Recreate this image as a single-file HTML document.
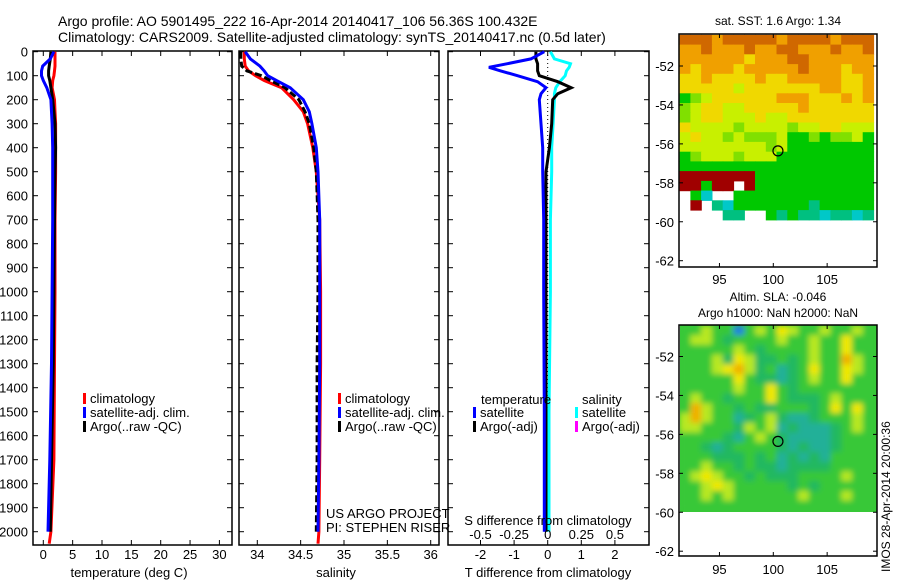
<!DOCTYPE html>
<html><head><meta charset="utf-8">
<style>
html,body{margin:0;padding:0;background:#fff;}
svg{display:block;font-family:"Liberation Sans",sans-serif;}
text{fill:#000;}
</style></head>
<body>
<svg id="fig" width="900" height="580" viewBox="0 0 900 580" xmlns="http://www.w3.org/2000/svg">
<defs>
<filter id="blur" x="-5%" y="-5%" width="110%" height="110%"><feGaussianBlur stdDeviation="3" edgeMode="duplicate"/></filter>
<clipPath id="clipSla"><rect x="680" y="325" width="197" height="187"/></clipPath>
</defs>
<text x="58" y="26" font-size="14">Argo profile: AO 5901495_222 16-Apr-2014 20140417_106 56.36S 100.432E</text>
<text x="58" y="42" font-size="14">Climatology: CARS2009. Satellite-adjusted climatology: synTS_20140417.nc (0.5d later)</text>
<g id="layer"></g>
</svg>
<script>
// ---------- data ----------
const depths = [0,30,60,80,100,120,150,200,250,300,400,500,700,1000,1300,1700,2000,2050];
const tempClim = [2.0,2.0,2.0,1.9,1.8,1.6,1.5,1.9,2.0,2.1,2.1,2.1,2.0,2.0,1.9,1.8,1.3,1.0];
const tempSat  = [1.8,1.2,-0.1,-0.3,-0.3,0.0,0.6,1.3,1.4,1.5,1.6,1.6,1.6,1.5,1.4,1.1,0.8,null];
const tempArgo = [1.3,1.2,1.0,0.9,0.9,1.1,1.3,1.6,1.8,2.0,2.1,2.0,1.9,1.8,1.7,1.4,1.2,null];
const salClim = [33.85,33.85,33.86,33.90,33.98,34.08,34.28,34.42,34.53,34.58,34.64,34.68,34.72,34.73,34.73,34.72,34.71,34.70];
const salSat  = [33.86,33.92,34.03,34.08,34.12,34.22,34.38,34.53,34.60,34.63,34.68,34.70,34.72,34.72,34.72,34.71,34.70,null];
const salArgo = [33.81,33.81,33.82,33.88,34.05,34.15,34.32,34.48,34.55,34.60,34.65,34.68,34.70,34.70,34.69,34.69,34.68,null];
const diffDepths = [0,30,50,65,80,100,125,150,175,200,300,400,500,700,1000,1500,2000];
const dTempSat  = [-0.1,-0.5,-1.2,-1.75,-1.4,-0.9,-0.3,-0.05,-0.2,-0.25,-0.2,-0.15,-0.15,-0.12,-0.12,-0.1,-0.1];
const dTempArgo = [-0.35,-0.35,-0.3,-0.3,-0.3,-0.25,0.3,0.7,0.3,0.15,0.12,0.05,-0.05,-0.05,-0.05,-0.05,-0.05];
const dSalSat   = [0.02,0.05,0.17,0.16,0.14,0.13,0.09,0.06,0.05,0.05,0.04,0.03,0.03,0.02,0.02,0.01,0.01];
const depthTicks = [0,100,200,300,400,500,600,700,800,900,1000,1100,1200,1300,1400,1500,1600,1700,1800,1900,2000];
const tempTicks = [0,5,10,15,20,25,30];
const salTicks = [34,34.5,35,35.5,36];
const salTickLabels = ["34","34.5","35","35.5","36"];
const dTTicks = [-2,-1,0,1,2];
const dSTicks = [-0.5,-0.25,0,0.25,0.5];
const dSTickLabels = ["-0.5","-0.25","0","0.25","0.5"];
const latTicks = [-52,-54,-56,-58,-60,-62];
const lonTicks = [95,100,105];
const argoLat = -56.36, argoLon = 100.432;
const sstRows = [
"OOOoOOOOOoOOOOoOOO","ooOoooOooOOoooOooO","ooooooyoooOOoooooo","oyoooyoooooOoooyoo",
"yyoyyyyoyyoooooyyo","yyyyyYyyyyyyyooyyo","GgYyyyyyyoooyyyoyo","gYyyYYyyyyyoyyyyyy",
"gYyyYYYyYYyyyyyyyy","yYYYYgYYYYgYYyyYYY","YyYYgYgggYGGgGggYG","YYYYYYYYgYGGGGGGGG",
"GgYYYgYYYGGGGGGGGG","GGGGGGGGGGGGGGGGGG","DDDDDDDGGGGGGGGGGG","DDGDD.DGGGGGGGGGGG",
".Gc..GGGGGGGGGGGGG",".D.tcGGGGGGGtGGGGG","....tt..GtGttcttct"];
const slaRows = [
"GGYGGbGYGyYGGYGGYG","GYYGgGGGGYGGYGGyGG","GGGGGYGgGGGGYGGyGG","GGGYgyYggGgGYGGoYG",
"GGGYyoYgGtgGyGGyYG","GGGGGyGggtgGYGGyGG","GGGGGYGGyGgGGGGGGG","GYGGgGGGyGgggGYGGG",
"GoYGGgGggGGGgGyGyG","YoYGGtgGYgttgGGGYG","YYGGGgYGYtgtttgGYG","GGGGgtGYGgttttgGGG",
"GGgtgGGGGgtgttgGGG","GGGgggGgGtgtgtGGGG","GGYGGgGggtggggGGGG","GYyYGGgGgggGGGGYGG",
"GGYyYGGGGGgGgGGGGG","GGYGYGGGGGGYGGGYGG","GGGGGGGGGGGGGGGGGG"];
const sstColors = {O:"#d06800",o:"#f0a000",y:"#f0d800",Y:"#c8f000",g:"#80e000",G:"#00c800",t:"#00c080",c:"#00c8c8",D:"#a00000"};
const slaColors = {G:"#38c838",g:"#20b860",t:"#20b098",Y:"#b8e820",y:"#f0e800",o:"#f0b000",b:"#2080e0"};

// ---------- helpers ----------
const NS = "http://www.w3.org/2000/svg";
const layer = document.getElementById('layer');
function mk(tag, attrs, parent){ const e=document.createElementNS(NS,tag); for(const k in attrs) e.setAttribute(k,attrs[k]); (parent||layer).appendChild(e); return e; }
function txt(x,y,s,size,anchor,parent){ const t=mk('text',{x:x,y:y,'font-size':size||13,'text-anchor':anchor||'start'},parent); t.textContent=s; return t; }
const yD = d => 51.7 + d*0.24;
const P1 = {l:33,r:232,t:51,b:545}, P2={l:239,r:439,t:51,b:545}, P3={l:448,r:649,t:51,b:545};
const xT = v => 43.3 + v*5.87;
const xS = v => 257.3 + (v-34)*86.7;
const xDT = v => 547.7 + v*33.6;
const xDS = v => 547.7 + v*134.4;
const M1 = {l:679,r:877,t:34,b:267}, M2 = {l:679,r:877,t:325,b:556};
const xLon = v => 773.3 + (v-100)*10.77;
const yLat1 = v => 66 + (-52 - v)*19.47;
const yLat2 = v => 356.5 + (-52 - v)*19.47;

function box(P,name){
  const r = mk('rect',{x:P.l,y:P.t,width:P.r-P.l,height:P.b-P.t,fill:'none',stroke:'#000','stroke-width':1.5});
  
  
}
function line(xs, ds, xf, color, name, dash){
  let pts=[];
  for(let i=0;i<ds.length;i++){ if(xs[i]===null) continue; pts.push(xf(xs[i]).toFixed(1)+','+yD(ds[i]).toFixed(1)); }
  const p = mk('polyline',{points:pts.join(' '),fill:'none',stroke:color,'stroke-width':3,'stroke-linejoin':'miter'});
  if(dash) p.setAttribute('stroke-dasharray',dash);
  
  
}
function depthTickMarks(P, labels){
  depthTicks.forEach(d=>{
    const y=yD(d);
    mk('line',{x1:P.l,y1:y,x2:P.l+5,y2:y,stroke:'#000'});
    mk('line',{x1:P.r,y1:y,x2:P.r-5,y2:y,stroke:'#000'});
    if(labels){ const t=txt(P.l-5,y+5,String(d),13,'end');
      
       }
  });
}
function xTicks(P, vals, labels, xf, ly){
  vals.forEach((v,i)=>{
    const x=xf(v);
    mk('line',{x1:x,y1:P.b,x2:x,y2:P.b-5,stroke:'#000'});
    mk('line',{x1:x,y1:P.t,x2:x,y2:P.t+5,stroke:'#000'});
    const t=txt(x,ly,labels[i],13,'middle');
    
    
  });
}
function legendEntry(x,y,color,label){
  const g=mk('g',{});
  
  
  mk('rect',{x:x,y:y-10,width:3,height:11,fill:color},g);
  txt(x+7,y,label,13,'start',g);
}

// ---------- panel 1 ----------
box(P1,'temperature-panel');
depthTickMarks(P1,true);
xTicks(P1,tempTicks,tempTicks.map(String),xT,559);
line(tempClim,depths,xT,'#ff0000','temperature-climatology-line');
line(tempArgo,depths,xT,'#000000','temperature-argo-line');
line(tempSat,depths,xT,'#0000ff','temperature-satellite-line');
legendEntry(83,403,'#ff0000','climatology');
legendEntry(83,417,'#0000ff','satellite-adj. clim.');
legendEntry(83,431,'#000000','Argo(..raw -QC)');
let t1=txt(129,577,'temperature (deg C)',13,'middle');  

// ---------- panel 2 ----------
box(P2,'salinity-panel');
depthTickMarks(P2,false);
xTicks(P2,salTicks,salTickLabels,xS,559);
line(salClim,depths,xS,'#ff0000','salinity-climatology-line');
line(salArgo,depths,xS,'#000000','salinity-argo-line','7 3');
line(salSat,depths,xS,'#0000ff','salinity-satellite-line');
legendEntry(338,403,'#ff0000','climatology');
legendEntry(338,417,'#0000ff','satellite-adj. clim.');
legendEntry(338,431,'#000000','Argo(..raw -QC)');
let t2=txt(336,577,'salinity',13,'middle');  
let pr1=txt(326,518,'US ARGO PROJECT',13);  
let pr2=txt(326,532,'PI: STEPHEN RISER',13);  

// ---------- panel 3 ----------
box(P3,'difference-panel');
depthTickMarks(P3,false);
xTicks(P3,dTTicks,dTTicks.map(String),xDT,559);
const zl=mk('line',{x1:xDT(0),y1:P3.t,x2:xDT(0),y2:yD(2000),stroke:'#000','stroke-dasharray':'1 3'});
 
function dline(xs, xf, color, name){
  let pts=[]; for(let i=0;i<diffDepths.length;i++) pts.push(xf(xs[i]).toFixed(1)+','+yD(diffDepths[i]).toFixed(1));
  const p=mk('polyline',{points:pts.join(' '),fill:'none',stroke:color,'stroke-width':3});
   
}
dline(dSalSat,xDS,'#00ffff','salinity-satellite-diff-line');
dline(dTempArgo,xDT,'#000000','temperature-argo-diff-line');
dline(dTempSat,xDT,'#0000ff','temperature-satellite-diff-line');
dSTicks.forEach((v,i)=>{ const t=txt(xDS(v),539,dSTickLabels[i],13,'middle');   });
let t3=txt(548,525,'S difference from climatology',13,'middle');  
let t4=txt(548,577,'T difference from climatology',13,'middle');  
let lt=txt(481,404,'temperature',13);  
let ls=txt(582,404,'salinity',13);  
legendEntry(473,417,'#0000ff','satellite');
legendEntry(473,431,'#000000','Argo(-adj)');
legendEntry(575,417,'#00ffff','satellite');
legendEntry(575,431,'#ff00ff','Argo(-adj)');

// ---------- maps ----------
function drawGrid(rows, colors, yLat, name, parent){
  const g = mk('g',{},parent);
   
  rows.forEach((row,ri)=>{
    const latTop = -50.4 - ri*0.5, latBot = latTop - 0.5;
    for(let ci=0;ci<row.length;ci++){
      const c=colors[row[ci]]; if(!c) continue;
      const lon0 = 91.3 + ci, lon1 = lon0 + 1;
      const y0=yLat(latTop), y1=Math.min(yLat(latBot), yLat(-60));
      mk('rect',{x:xLon(lon0).toFixed(1),y:y0.toFixed(1),width:(xLon(lon1)-xLon(lon0)+0.6).toFixed(1),height:(y1-y0+0.6).toFixed(1),fill:c},g);
    }
  });
  return g;
}
function mapAxes(M, yLat, name, lonLabelY){
  const r=mk('rect',{x:M.l,y:M.t,width:M.r-M.l,height:M.b-M.t,fill:'none',stroke:'#000','stroke-width':1.5});
   
  latTicks.forEach(v=>{ const y=yLat(v);
    mk('line',{x1:M.l,y1:y,x2:M.l+4,y2:y,stroke:'#000'}); mk('line',{x1:M.r,y1:y,x2:M.r-4,y2:y,stroke:'#000'});
    const t=txt(M.l-5,y+5,String(v),13,'end');   });
  lonTicks.forEach(v=>{ const x=xLon(v);
    mk('line',{x1:x,y1:M.t,x2:x,y2:M.t+4,stroke:'#000'}); mk('line',{x1:x,y1:M.b,x2:x,y2:M.b-4,stroke:'#000'});
    const t=txt(x,lonLabelY,String(v),13,'middle');   });
}
drawGrid(sstRows,sstColors,yLat1,'sst-map-cells');
const c1=mk('circle',{cx:xLon(argoLon),cy:yLat1(argoLat),r:5,fill:'none',stroke:'#000','stroke-width':1.2});
 
mapAxes(M1,yLat1,'sst-map',284);
let m1t=txt(778,25,'sat. SST: 1.6 Argo: 1.34',12,'middle');  

const slaG = mk('g',{'clip-path':'url(#clipSla)'});
mk('rect',{x:679,y:325,width:198,height:187,fill:'#38c838'},slaG);
const slaInner = mk('g',{filter:'url(#blur)'},slaG);
drawGrid(slaRows,slaColors,yLat2,'sla-map-cells',slaInner);
const c2=mk('circle',{cx:xLon(argoLon),cy:yLat2(argoLat),r:5,fill:'none',stroke:'#000','stroke-width':1.2});
 
mapAxes(M2,yLat2,'sla-map',574);
let m2a=txt(778,301,'Altim. SLA: -0.046',12,'middle');  
let m2b=txt(778,317,'Argo h1000: NaN h2000: NaN',12,'middle');  
let side=txt(0,0,'IMOS 28-Apr-2014 20:00:36',12,'start');
side.setAttribute('transform','translate(890,572) rotate(-90)');
 
</script>
</body></html>
